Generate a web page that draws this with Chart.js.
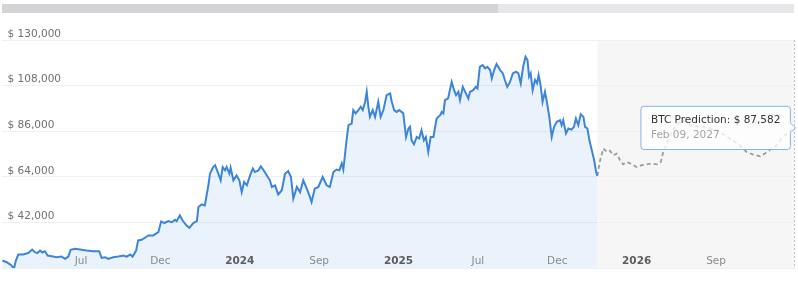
<!DOCTYPE html>
<html>
<head>
<meta charset="utf-8">
<script src="https://cdn.jsdelivr.net/npm/chart.js@4.4.1/dist/chart.umd.min.js"></script>
<style>
    html, body { margin: 0; padding: 0; background: #fff; }
    #wrap { position: relative; width: 798px; height: 282px; overflow: hidden; }
    #chart { position: absolute; left: 0; top: 0; }
    .scroll { position: absolute; top: 4px; height: 9px; }
    #scrollThumb { left: 2px; width: 496px; background: #d4d4d6; }
    #scrollTrack { left: 498px; width: 296px; background: #e7e7e9; }
</style>
</head>
<body>
<div id="wrap">
    <div class="scroll" id="scrollThumb"></div>
    <div class="scroll" id="scrollTrack"></div>
    <canvas id="chart" width="798" height="282"></canvas>
</div>
<script>
// Position along the time axis (0-200 scale) and BTC price in USD
const histPos = [0.2, 1.3, 2.5, 3.1, 3.6, 4.2, 5.4, 6.7, 7.7, 8.4, 9.0, 9.7, 10.3, 10.9, 11.6, 12.6, 13.9, 15.1, 16.0, 16.8,
    17.4, 18.5, 19.8, 21.4, 23.1, 24.6, 25.2, 26.1, 26.9, 28.1, 29.4, 30.7, 31.5, 32.4, 33.0, 33.9, 34.4, 35.3, 36.1, 37.0,
    38.2, 39.5, 40.2, 41.0, 42.0, 42.9, 43.7, 44.1, 44.9, 45.6, 46.6, 47.3, 48.3, 49.2,
    49.6, 50.4, 51.2, 52.1, 52.5, 53.3, 53.8, 54.6, 55.2, 55.7, 56.3, 56.7, 57.4, 57.7, 58.4, 59.2, 59.9, 60.5, 61.1, 61.8,
    62.6, 63.3, 63.8, 64.7, 65.3, 65.9, 66.8, 67.6, 68.1, 68.9, 69.7, 70.6, 71.4, 72.2, 72.9, 73.5, 74.4, 75.2, 76.0, 76.9,
    77.7, 78.1, 78.9, 79.8, 80.9, 81.9, 82.7, 83.6, 84.4, 85.1, 85.7, 86.1, 86.5, 86.9, 87.4, 88.2, 88.6, 89.2, 89.9, 90.5,
    91.0, 91.6, 92.0, 92.4, 92.8, 93.5, 94.1, 94.9, 95.5, 96.2, 97.0, 97.9, 98.3, 98.9, 99.5, 100.2,
    101.2, 101.9, 102.5, 102.9, 103.3, 103.9, 104.6, 105.2, 105.8, 106.4, 106.9, 107.5, 108.1, 108.8, 109.6, 110.5, 110.9, 111.3, 111.7, 112.5,
    113.4, 114.0, 114.5, 115.1, 115.5, 116.2, 116.8, 117.6, 118.0, 118.8, 119.5, 119.9, 120.5, 121.2, 121.8, 122.4, 123.1, 123.5, 124.1, 124.7,
    125.6, 126.3, 126.8, 127.4, 128.1, 128.8, 129.6, 130.2, 130.8, 131.4, 132.0, 132.5, 132.9, 133.3, 133.8, 134.4, 134.9, 135.3, 135.8, 136.3,
    136.9, 137.3, 138.0, 138.6, 139.2, 139.9, 140.7, 141.1, 141.5, 142.2, 142.8, 143.6, 144.2, 144.7, 145.3, 145.9, 146.6, 147.0, 147.6, 148.1,
    148.7, 149.3, 149.8, 150.1];

const histPrice = [23600, 22800, 21200, 19600, 23600, 26500, 26500, 27200, 28900, 27600, 27200, 28400, 27500, 28100, 26000, 25700, 25200, 25500, 24400, 25500,
    28800, 29300, 28900, 28400, 28100, 28100, 24900, 25200, 24400, 25200, 25500, 26000, 25500, 26500, 25500, 28400, 33300, 33600, 34600, 35700,
    35700, 37300, 42500, 41700, 42600, 42100, 43300, 42600, 45400, 42900, 40500, 39400, 41700, 42600,
    49400, 50700, 50200, 59900, 65500, 68700, 69600, 65500, 62300, 68700, 67100, 68700, 65500, 68400, 62300, 64700, 62300, 56600, 61500, 59900,
    64700, 68000, 66300, 67100, 69100, 67500, 64700, 62300, 59100, 59900, 55500, 57500, 65500, 66800, 63900, 53500, 59100, 56600, 62300, 58300,
    54200, 51800, 58300, 59100, 63900, 59900, 59100, 66300, 67500, 67100, 70400, 67500, 74400, 81600, 88900, 89700, 96200, 94600, 96200, 97800,
    96200, 100200, 105000, 97800, 92900, 96200, 92900, 100200, 92900, 96200, 103400, 104200, 100200, 96200, 95300, 96200,
    94600, 83200, 87300, 88100, 81600, 79700, 83200, 82500, 86500, 81600, 83200, 76000, 83200, 83200, 92100, 93700, 95300, 94600, 101000, 101800,
    109800, 105800, 103400, 105000, 101000, 107400, 105000, 101800, 105000, 105800, 107400, 106600, 117100, 117900, 116300, 117100, 115500, 111500, 115500, 118400,
    115500, 113900, 110700, 107400, 109800, 113900, 114700, 113900, 109100, 117100, 121900, 120300, 112300, 113900, 105800, 110700, 109100, 113100, 108200, 100200,
    105000, 101000, 92900, 83200, 88100, 90500, 91300, 88900, 91300, 84900, 87300, 86800, 88100, 92100, 88900, 94200, 92900, 88100, 87300, 81600,
    76800, 72000, 66300, 64500];

// Prediction series
const predPos = [150.1, 150.8, 151.6, 152.5, 153.3, 154.1, 155.0, 155.8, 156.6, 157.5, 158.8, 160.0, 161.3, 162.5, 163.8, 165.1, 166.1, 166.7, 167.6, 168.4,
    169.7, 170.9, 171.8, 173.4, 176.8, 180.2, 183.5, 186.0, 187.7, 189.4, 191.1, 192.3, 194.0, 195.3, 196.5, 197.8, 199.5, 200];
const predPrice = [64500, 72000, 77600, 76000, 76500, 74400, 75200, 72000, 70000, 71200, 70000, 68700, 69600, 70000, 70400, 70000, 71200, 76000, 80000, 84100,
    88100, 90500, 91300, 88900, 88100, 86500, 82500, 79200, 76000, 74700, 73900, 75200, 77600, 79200, 82500, 84900, 87300, 87582];
const predEndDate = 'Feb 09, 2027';

// Axis labels
const xTickLabels = ['', 'Jul', 'Dec', '2024', 'Sep', '2025', 'Jul', 'Dec', '2026', 'Sep', ''];
const yearLabels = ['2024', '2025', '2026'];

const FONT = "'DejaVu Sans', Verdana, sans-serif";

function toPoints(xs, ys) {
    return xs.map((x, i) => ({ x: x, y: ys[i] }));
}

function formatPrice(v) {
    return '$ ' + v.toLocaleString('en-US');
}

function isYear(index) {
    return yearLabels.includes(xTickLabels[index]);
}

// Light gray band behind the prediction part
const predictionBand = {
    id: 'predictionBand',
    beforeDraw(chart) {
        const { ctx, chartArea, scales } = chart;
        const x0 = scales.x.getPixelForValue(predPos[0]);
        ctx.save();
        ctx.fillStyle = '#f6f6f6';
        ctx.fillRect(x0, chartArea.top, chartArea.right - x0, chartArea.bottom - chartArea.top);
        ctx.restore();
    }
};

// Dashed crosshair at the hovered point
const crosshair = {
    id: 'crosshair',
    afterDatasetsDraw(chart) {
        const { ctx, chartArea, scales } = chart;
        const x = Math.round(scales.x.getPixelForValue(predPos[predPos.length - 1])) - 0.5;
        ctx.save();
        ctx.strokeStyle = '#c4c4c4';
        ctx.lineWidth = 1;
        ctx.setLineDash([2, 2]);
        ctx.beginPath();
        ctx.moveTo(x, chartArea.top);
        ctx.lineTo(x, chartArea.bottom);
        ctx.stroke();
        ctx.restore();
    }
};

const chart = new Chart(document.getElementById('chart'), {
    type: 'line',
    data: {
        datasets: [{
            label: 'BTC Price',
            data: toPoints(histPos, histPrice),
            borderColor: '#3d85d9',
            backgroundColor: 'rgba(61, 133, 217, 0.11)',
            borderWidth: 2,
            fill: 'start',
            tension: 0,
            pointRadius: 0,
            pointHoverRadius: 0
        }, {
            label: 'BTC Prediction',
            data: toPoints(predPos, predPrice),
            borderColor: '#9c9c9c',
            borderWidth: 1.8,
            borderDash: [4, 3],
            fill: false,
            tension: 0,
            pointRadius: 0,
            pointHoverRadius: 0
        }]
    },
    options: {
        responsive: false,
        animation: false,
        events: [],
        layout: {
            padding: { left: 1.6, right: 2.6, top: 40, bottom: 0 }
        },
        plugins: {
            legend: { display: false },
            tooltip: {
                enabled: true,
                xAlign: 'right',
                yAlign: 'center',
                caretSize: 5,
                caretPadding: 0,
                cornerRadius: 3,
                backgroundColor: 'rgba(255, 255, 255, 0.78)',
                borderColor: '#86b3e6',
                borderWidth: 1,
                displayColors: false,
                padding: { x: 10, y: 8 },
                titleColor: '#333333',
                titleFont: { family: FONT, size: 10.5, weight: 'normal' },
                titleMarginBottom: 2,
                bodyColor: '#a3a3a3',
                bodyFont: { family: FONT, size: 10.5 },
                callbacks: {
                    title: items => items[0].dataset.label + ': ' + formatPrice(items[0].raw.y),
                    label: () => predEndDate
                }
            }
        },
        scales: {
            x: {
                type: 'linear',
                min: 0,
                max: 200,
                grid: { display: false },
                border: { display: false },
                afterFit: scale => { scale.height = 14; },
                ticks: {
                    z: 1,
                    mirror: true,  // labels sit inside the plot, above its bottom edge
                    stepSize: 20,
                    autoSkip: false,
                    maxRotation: 0,
                    padding: 0,
                    callback: (value, index) => xTickLabels[index] || '',
                    color: ctx => isYear(ctx.index) ? '#5c5c5c' : '#8a8a8a',
                    font: ctx => ({
                        family: FONT,
                        size: 10.5,
                        weight: isYear(ctx.index) ? 'bold' : 'normal'
                    })
                }
            },
            y: {
                min: 20000,
                max: 130000,
                grid: { color: '#f0f0f0', drawTicks: false },
                border: { display: false },
                afterFit: scale => { scale.width = 0; },
                ticks: {
                    stepSize: 22000,
                    mirror: true,
                    padding: 6,
                    labelOffset: -6,
                    color: '#707070',
                    font: { family: FONT, size: 10.5 },
                    callback: value => value === 20000 ? '' : formatPrice(value)
                }
            }
        }
    },
    plugins: [predictionBand, crosshair]
});

// Show the prediction tooltip on the last point
const lastIndex = predPos.length - 1;
const lastPoint = chart.getDatasetMeta(1).data[lastIndex];
chart.tooltip.setActiveElements([{ datasetIndex: 1, index: lastIndex }], { x: lastPoint.x, y: lastPoint.y });
chart.update();
</script>
</body>
</html>
